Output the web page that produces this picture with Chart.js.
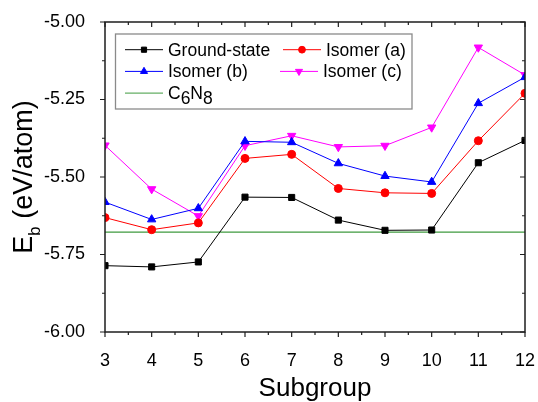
<!DOCTYPE html>
<html>
<head>
<meta charset="utf-8">
<script src="https://cdn.jsdelivr.net/npm/chart.js@4/dist/chart.umd.min.js"></script>
<style>
  body { margin: 0; background: #fff; }
</style>
</head>
<body>
<canvas id="myChart" width="538" height="402"></canvas>
<script>
// values
const subgroups = [3, 4, 5, 6, 7, 8, 9, 10, 11, 12];
const groundState = [-5.786, -5.790, -5.774, -5.565, -5.566, -5.639, -5.672, -5.671, -5.454, -5.382];
const isomerA = [-5.631, -5.670, -5.648, -5.440, -5.427, -5.537, -5.551, -5.553, -5.383, -5.230];
const isomerB = [-5.581, -5.637, -5.601, -5.385, -5.388, -5.456, -5.497, -5.516, -5.262, -5.178];
const isomerC = [-5.398, -5.539, -5.626, -5.399, -5.367, -5.403, -5.399, -5.340, -5.082, -5.171];
const c6n8 = -5.678;
const yTicks = [-6.00, -5.75, -5.50, -5.25, -5.00];

const FONT = '"Liberation Sans", Arial, sans-serif';

function pts(vals) {
    return subgroups.map((s, i) => ({ x: s, y: vals[i] }));
}

// text with "_x" meaning x is a subscript
function drawRich(ctx, text, x, y, size, subScale, subShift, align) {
    const parts = [];
    for (let i = 0; i < text.length; i++) {
        if (text[i] === '_') {
            parts.push({ t: text[i + 1], sub: true });
            i++;
        } else if (parts.length && !parts[parts.length - 1].sub) {
            parts[parts.length - 1].t += text[i];
        } else {
            parts.push({ t: text[i], sub: false });
        }
    }
    let w = 0;
    parts.forEach(p => {
        ctx.font = (p.sub ? size * subScale : size) + 'px ' + FONT;
        p.w = ctx.measureText(p.t).width;
        w += p.w;
    });
    let cx = align === 'center' ? x - w / 2 : x;
    ctx.textAlign = 'left';
    ctx.textBaseline = 'alphabetic';
    parts.forEach(p => {
        ctx.font = (p.sub ? size * subScale : size) + 'px ' + FONT;
        ctx.fillText(p.t, cx, y + (p.sub ? subShift : 0));
        cx += p.w;
    });
}

const framePlugin = {
    id: 'frame',
    afterDatasetsDraw(chart) {
        const ctx = chart.ctx;
        const a = chart.chartArea;
        const xs = chart.scales.x, ys = chart.scales.y;
        ctx.save();
        ctx.strokeStyle = '#1e1e1e';
        ctx.lineWidth = 1.5;
        ctx.strokeRect(a.left, a.top, a.right - a.left, a.bottom - a.top);
        ctx.lineWidth = 1.2;
        ctx.beginPath();
        for (let v = xs.min; v <= xs.max + 1e-9; v += 0.5) {
            const px = xs.getPixelForValue(v);
            const len = Number.isInteger(v) ? 5 : 3;
            ctx.moveTo(px, a.bottom); ctx.lineTo(px, a.bottom + len);
            ctx.moveTo(px, a.top); ctx.lineTo(px, a.top + len);
        }
        for (let v = ys.min; v <= ys.max + 1e-9; v += 0.125) {
            const py = ys.getPixelForValue(v);
            const len = Math.abs(v / 0.25 - Math.round(v / 0.25)) < 1e-6 ? 5 : 3;
            ctx.moveTo(a.left, py); ctx.lineTo(a.left - len, py);
            ctx.moveTo(a.right, py); ctx.lineTo(a.right - len, py);
        }
        ctx.stroke();
        ctx.restore();
    },
    afterDraw(chart) {
        const ctx = chart.ctx;
        const a = chart.chartArea;
        ctx.save();
        ctx.fillStyle = '#000';
        // axis titles
        drawRich(ctx, 'Subgroup', (a.left + a.right) / 2, 396, 26, 1, 0, 'center');
        ctx.translate(32, (a.top + a.bottom) / 2);
        ctx.rotate(-Math.PI / 2);
        drawRich(ctx, 'E_b (eV/atom)', 0, 0, 27, 0.62, 8, 'center');
        ctx.restore();

        // legend, two columns
        ctx.save();
        const bx = a.left + 10.5, by = a.top + 12;
        ctx.strokeStyle = '#8a8a8a';
        ctx.lineWidth = 1.3;
        ctx.strokeRect(bx, by, 296.5, 75);
        const slots = [
            { x: 125, tx: 168, row: 0 },
            { x: 283, tx: 326, row: 0 },
            { x: 125, tx: 168, row: 1 },
            { x: 280, tx: 323, row: 1 },
            { x: 125, tx: 168, row: 2 }
        ];
        chart.data.datasets.forEach((ds, i) => {
            const s = slots[i];
            const cy = 49.7 + s.row * 21.7;
            ctx.strokeStyle = ds.borderColor;
            ctx.lineWidth = 1;
            ctx.beginPath();
            ctx.moveTo(s.x, cy); ctx.lineTo(s.x + 38, cy);
            ctx.stroke();
            if (ds.pointRadius > 0) {
                ctx.fillStyle = ds.pointBackgroundColor;
                ctx.strokeStyle = ds.pointBorderColor;
                Chart.helpers.drawPoint(ctx, {
                    pointStyle: ds.pointStyle,
                    radius: ds.pointRadius * 0.85,
                    rotation: ds.pointRotation || 0,
                    borderWidth: 1
                }, s.x + 19, cy);
            }
            ctx.fillStyle = '#000';
            drawRich(ctx, ds.legendText, s.tx, cy + 6, 17.5, 1, 5, 'left');
        });
        ctx.restore();
    }
};

function series(label, vals, color, style, radius, rot) {
    return {
        label: label,
        legendText: label,
        data: pts(vals),
        borderColor: color,
        backgroundColor: color,
        pointBackgroundColor: color,
        pointBorderColor: color,
        borderWidth: 1,
        pointStyle: style,
        pointRadius: radius,
        pointRotation: rot || 0,
        pointBorderWidth: 1,
        clip: 0
    };
}

const datasets = [
    series('Ground-state', groundState, '#000000', 'rect', 4.3),
    series('Isomer (a)', isomerA, '#ff0000', 'circle', 4),
    series('Isomer (b)', isomerB, '#0000ff', 'triangle', 4.8),
    series('Isomer (c)', isomerC, '#ff00ff', 'triangle', 4.8, 180),
    {
        label: 'C6N8',
        legendText: 'C_6N_8',
        data: [{ x: subgroups[0], y: c6n8 }, { x: subgroups[subgroups.length - 1], y: c6n8 }],
        borderColor: '#3f9a3f',
        borderWidth: 1.2,
        pointRadius: 0,
        clip: 0
    }
];

const ctx = document.getElementById('myChart');
new Chart(ctx, {
    type: 'line',
    data: { datasets: datasets },
    options: {
        responsive: false,
        animation: false,
        devicePixelRatio: 1,
        layout: { padding: { top: 22, right: 13, left: 0, bottom: 0 } },
        plugins: {
            legend: { display: false },
            tooltip: { enabled: false }
        },
        scales: {
            x: {
                type: 'linear',
                min: subgroups[0],
                max: subgroups[subgroups.length - 1],
                afterFit: s => { s.height = 70; s.paddingLeft = 0; s.paddingRight = 0; },
                grid: { display: false },
                border: { display: false },
                ticks: {
                    stepSize: 1,
                    padding: 10,
                    color: '#000',
                    font: { size: 18, family: FONT }
                }
            },
            y: {
                min: yTicks[0],
                max: yTicks[yTicks.length - 1],
                afterFit: s => { s.width = 105; s.paddingTop = 0; s.paddingBottom = 0; },
                afterBuildTicks: s => { s.ticks = yTicks.map(v => ({ value: v })); },
                grid: { display: false },
                border: { display: false },
                ticks: {
                    padding: 12,
                    color: '#000',
                    font: { size: 18, family: FONT },
                    callback: v => v.toFixed(2)
                }
            }
        }
    },
    plugins: [framePlugin]
});
</script>
</body>
</html>
